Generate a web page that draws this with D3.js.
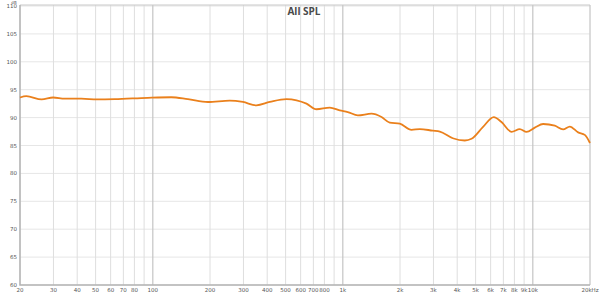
<!DOCTYPE html>
<html>
<head>
<meta charset="utf-8">
<script src="https://cdn.jsdelivr.net/npm/d3@7"></script>
<style>
  body { margin: 0; background: #fff; }
  svg { display: block; font-family: "DejaVu Sans", sans-serif; }
</style>
</head>
<body>
<div id="chart"></div>
<script>
// frequency response
const freqs = [20, 21.6, 26, 29.9, 34.4, 42, 51, 63, 94, 125, 153, 195, 254, 298, 351, 413, 505, 571,
  644, 727, 854, 964, 1062, 1200, 1416, 1599, 1767, 1995, 2300, 2543, 2977, 3240, 3793, 4387, 4758,
  5457, 6233, 6843, 7724, 8542, 9266, 10246, 11330, 13052, 14437, 15656, 17316, 18776, 20000];
const spl = [93.6, 93.85, 93.25, 93.6, 93.4, 93.4, 93.25, 93.3, 93.55, 93.65, 93.3, 92.8, 93.05, 92.8,
  92.2, 92.8, 93.3, 93.1, 92.5, 91.5, 91.8, 91.3, 91.0, 90.4, 90.7, 90.1, 89.1, 88.9, 87.8, 87.95,
  87.65, 87.5, 86.3, 85.9, 86.2, 88.3, 90.1, 89.2, 87.45, 87.95, 87.45, 88.2, 88.85, 88.55, 87.9,
  88.4, 87.35, 86.9, 85.45];

const yTicks = [60, 65, 70, 75, 80, 85, 90, 95, 100, 105, 110];
const xTicks = [20, 30, 40, 50, 60, 70, 80, 90, 100, 200, 300, 400, 500, 600, 700, 800, 900,
  1000, 2000, 3000, 4000, 5000, 6000, 7000, 8000, 9000, 10000, 20000];
const xLabels = {20: "20", 30: "30", 40: "40", 50: "50", 60: "60", 70: "70", 80: "80", 100: "100",
  200: "200", 300: "300", 400: "400", 500: "500", 600: "600", 700: "700", 800: "800", 1000: "1k",
  2000: "2k", 3000: "3k", 4000: "4k", 5000: "5k", 6000: "6k", 7000: "7k", 8000: "8k", 9000: "9k",
  10000: "10k", 20000: "20kHz"};
const decades = [100, 1000, 10000];

const width = 600, height = 294;
const margin = { t: 5, r: 10, b: 9, l: 20 };

var x = d3.scaleLog().domain([20, 20000]).range([margin.l, width - margin.r]);
var y = d3.scaleLinear().domain([60, 110]).range([height - margin.b, margin.t + 1]);

const svg = d3.select("#chart").append("svg")
  .attr("width", width)
  .attr("height", height);

// horizontal grid
svg.append("g").selectAll("line")
  .data(yTicks)
  .join("line")
  .attr("x1", margin.l).attr("x2", width - margin.r)
  .attr("y1", d => y(d)).attr("y2", d => y(d))
  .attr("stroke", "#e6e6e6").attr("stroke-width", 1);

// vertical grid, decades a bit darker
svg.append("g").selectAll("line")
  .data(xTicks)
  .join("line")
  .attr("x1", d => x(d)).attr("x2", d => x(d))
  .attr("y1", margin.t).attr("y2", height - margin.b)
  .attr("stroke", d => decades.includes(d) ? "#c4c4c4" : "#dedede")
  .attr("stroke-width", d => decades.includes(d) ? 1.2 : 1);

// frame
svg.append("path")
  .attr("d", `M${margin.l},${margin.t}H${width - margin.r}V${height - margin.b}`)
  .attr("fill", "none").attr("stroke", "#c8c8c8").attr("stroke-width", 1);
svg.append("path")
  .attr("d", `M${margin.l},${margin.t}V${height - margin.b}H${width - margin.r}`)
  .attr("fill", "none").attr("stroke", "#b4b4b4").attr("stroke-width", 1.5);

// y labels
svg.append("g").selectAll("text")
  .data(yTicks)
  .join("text")
  .attr("x", margin.l - 3)
  .attr("y", d => y(d) + 2)
  .attr("text-anchor", "end")
  .attr("font-size", 5.5)
  .attr("fill", "#555")
  .text(d => d);

svg.append("text")
  .attr("x", margin.l - 6).attr("y", 3.6)
  .attr("text-anchor", "middle")
  .attr("font-size", 4)
  .attr("fill", "#555")
  .text("dB");

// x labels
svg.append("g").selectAll("text")
  .data(xTicks.filter(d => xLabels[d]))
  .join("text")
  .attr("x", d => x(d))
  .attr("y", height - 2)
  .attr("text-anchor", "middle")
  .attr("font-size", 5.5)
  .attr("fill", "#555")
  .text(d => xLabels[d]);

// title
svg.append("text")
  .attr("x", 304).attr("y", 15)
  .attr("text-anchor", "middle")
  .attr("font-family", "Open Sans, sans-serif")
  .attr("font-weight", "bold")
  .attr("font-size", 10)
  .attr("fill", "#4a4a4a")
  .text("All SPL");

// response curve
const pts = freqs.map((f, i) => [f, spl[i]]);
svg.append("path")
  .datum(pts)
  .attr("d", d3.line()
    .x(d => x(d[0]))
    .y(d => y(d[1]))
    .curve(d3.curveMonotoneX))
  .attr("fill", "none")
  .attr("stroke", "#ea801c")
  .attr("stroke-width", 1.8)
  .attr("stroke-linejoin", "round");
</script>
</body>
</html>
